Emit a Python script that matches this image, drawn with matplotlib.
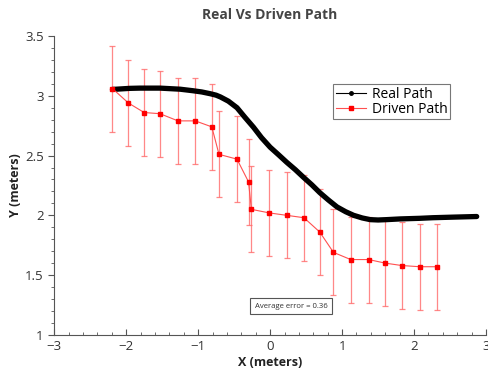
import matplotlib
matplotlib.use("Agg")
import matplotlib.pyplot as plt
from matplotlib.lines import Line2D
from matplotlib.ticker import MultipleLocator

plt.rcParams["font.family"] = ["Open Sans", "DejaVu Sans"]

# Real path
real_x = [-2.19, -1.95, -1.81, -1.53, -1.25, -1.07, -0.95, -0.83, -0.75, -0.69,
          -0.58, -0.46, -0.35, -0.23, -0.12, 0.0, 0.12, 0.23, 0.35, 0.46, 0.58,
          0.69, 0.81, 0.93, 1.05, 1.16, 1.28, 1.39, 1.50, 1.62, 1.81, 2.08, 2.26,
          2.55, 2.87]
real_y = [3.053, 3.062, 3.064, 3.064, 3.055, 3.042, 3.032, 3.017, 3.005, 2.99,
          2.955, 2.90, 2.82, 2.736, 2.65, 2.57, 2.505, 2.444, 2.382, 2.32, 2.255,
          2.19, 2.128, 2.07, 2.03, 2.0, 1.978, 1.964, 1.961, 1.964, 1.97, 1.975,
          1.98, 1.985, 1.99]

# Driven path with error bars
driven_x = [-2.19, -1.97, -1.75, -1.53, -1.28, -1.04, -0.81, -0.71, -0.46, -0.30,
            -0.26, -0.01, 0.23, 0.47, 0.69, 0.88, 1.12, 1.37, 1.60, 1.83, 2.08, 2.32]
driven_y = [3.06, 2.94, 2.86, 2.85, 2.79, 2.79, 2.74, 2.51, 2.47, 2.28,
            2.05, 2.02, 2.00, 1.98, 1.86, 1.69, 1.63, 1.63, 1.60, 1.58, 1.57, 1.57]
driven_err = [0.36] * len(driven_x)

avg_error = 0.36

x_ticks = [-3, -2, -1, 0, 1, 2, 3]
x_tick_labels = ["\u22123", "\u22122", "\u22121", "0", "1", "2", "3"]
y_ticks = [1, 1.5, 2, 2.5, 3, 3.5]
y_tick_labels = ["1", "1.5", "2", "2.5", "3", "3.5"]

fig = plt.figure(figsize=(4.88, 3.75), dpi=100)
ax = fig.add_axes([0.111, 0.107, 0.885, 0.797])

ax.errorbar(driven_x, driven_y, yerr=driven_err, fmt="none", ecolor="#ff6b6b",
            elinewidth=0.9, capsize=2, capthick=0.9, alpha=0.8, zorder=2)
ax.plot(real_x, real_y, color="black", lw=3.8, solid_capstyle="round",
        solid_joinstyle="round", zorder=3)
ax.plot(driven_x, driven_y, color="#ff5050", lw=0.8, marker="s", markersize=3.2,
        markerfacecolor="red", markeredgecolor="red", zorder=4)

handles = [
    Line2D([], [], color="black", lw=0.8, marker="o", markersize=2.5),
    Line2D([], [], color="#ff5050", lw=0.8, marker="s", markersize=2.5,
           markerfacecolor="red", markeredgecolor="red"),
]
leg = ax.legend(handles, ["Real Path", "Driven Path"], loc="upper left",
                bbox_to_anchor=(0.645, 0.84), fontsize=10, frameon=True,
                fancybox=False, borderpad=0.2, handlelength=2.2,
                handletextpad=0.4, labelspacing=0.0, borderaxespad=0)
leg.get_frame().set_edgecolor("#555555")
leg.get_frame().set_linewidth(0.8)

ax.text(0.29, 1.24, f"Average error = {avg_error:.2f}", fontsize=5.6, ha="center",
        va="center", color="#333333",
        bbox=dict(boxstyle="square,pad=0.55", fc="white", ec="#555555", lw=0.8))

ax.set_xlim(-3, 3)
ax.set_ylim(1, 3.5)
ax.set_xticks(x_ticks)
ax.set_xticklabels(x_tick_labels)
ax.set_yticks(y_ticks)
ax.set_yticklabels(y_tick_labels)
ax.xaxis.set_minor_locator(MultipleLocator(0.2))
ax.yaxis.set_minor_locator(MultipleLocator(0.1))

for side in ["top", "right"]:
    ax.spines[side].set_visible(False)
for side in ["left", "bottom"]:
    ax.spines[side].set_color("#555555")
    ax.spines[side].set_linewidth(0.8)

ax.tick_params(axis="x", which="major", direction="in", length=4, width=0.8,
               colors="#555555", labelcolor="#333333", labelsize=9.5)
ax.tick_params(axis="x", which="minor", direction="in", length=2, width=0.6,
               colors="#555555")
ax.tick_params(axis="y", which="major", direction="out", length=4, width=0.8,
               colors="#555555", labelcolor="#333333", labelsize=9.5)
ax.tick_params(axis="y", which="minor", direction="out", length=2, width=0.6,
               colors="#555555")

ax.set_xlabel("X (meters)", fontsize=9, fontweight="bold", color="#222222", labelpad=2)
ax.set_ylabel("Y (meters)", fontsize=9, fontweight="bold", color="#222222", labelpad=2)
ax.set_title("Real Vs Driven Path", fontsize=10, fontweight="bold", color="#444444", pad=12)

fig.savefig("out.png", dpi=100)
